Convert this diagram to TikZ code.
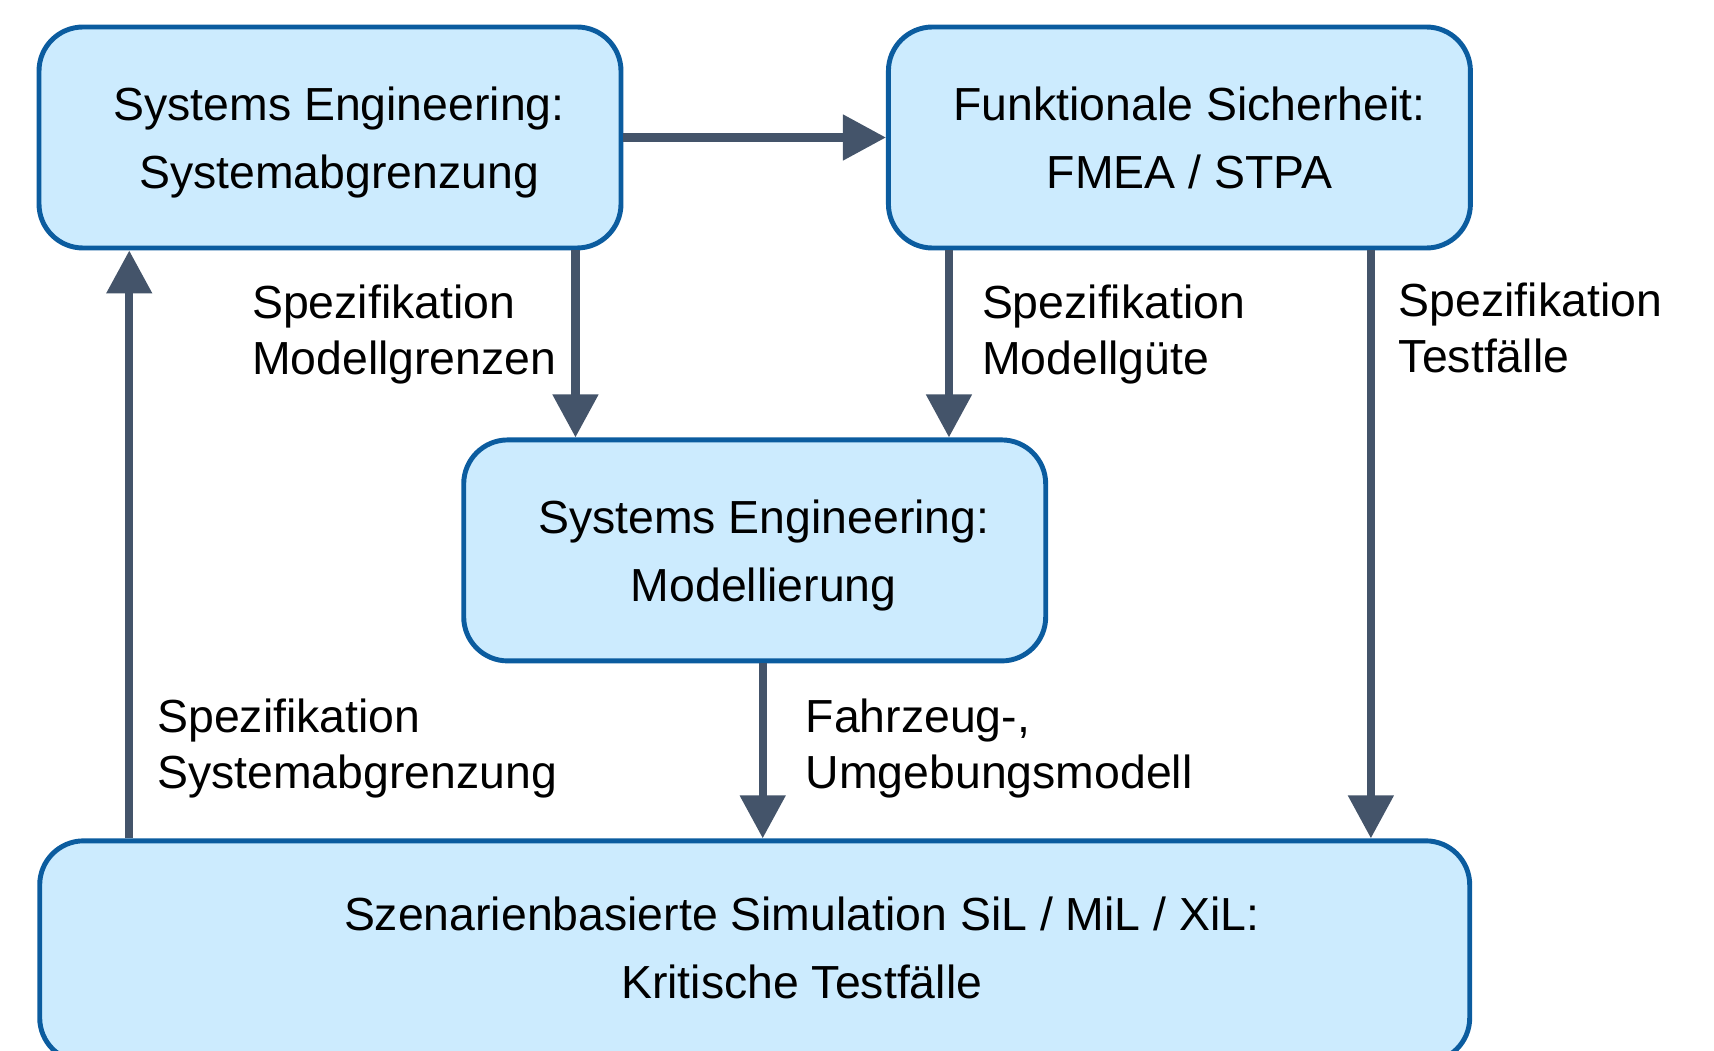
\documentclass[tikz,border=0pt]{standalone}
\usepackage{fontspec}
\setmainfont{Liberation Sans}
\usetikzlibrary{arrows.meta, positioning, calc}
\definecolor{boxfill}{RGB}{204,235,254}
\definecolor{boxline}{RGB}{11,92,159}
\definecolor{arrowgray}{RGB}{68,84,106}

\begin{document}
\begin{tikzpicture}[node distance=2cm,
every node/.style={align=center}, >={Triangle[length=0.43cm, width=0.44cm]},
box/.style={rectangle, rounded corners=0.44cm, draw=boxline, line width=1.4pt, fill=boxfill, minimum width=5.82cm, minimum height=2.21cm, font=\fontsize{13.2}{19.3}\selectfont, text depth=0pt},
flow/.style={->, draw=arrowgray, line width=2.3pt},
lbl/.style={align=left, inner sep=0pt, font=\fontsize{13.2}{15.9}\selectfont, execute at end node={\vphantom{g}}}]

  \useasboundingbox (0,0) rectangle (17.14,-10.51);

  % Top row
  \node[box] (sysab) at (3.30,-1.375) {\hspace*{0.18cm}Systems Engineering:\\\hspace*{0.18cm}Systemabgrenzung};
  \node[box, right=2.625cm of sysab] (fsich) {\hspace*{0.2cm}Funktionale Sicherheit:\\\hspace*{0.2cm}FMEA / STPA};

  % Middle
  \coordinate (mid) at ($(sysab.south)!0.5!(fsich.south)$);
  \node[box, below=1.87cm of mid] (model) {\hspace*{0.18cm}Systems Engineering:\\\hspace*{0.18cm}Modellierung};

  % Bottom
  \node[box, minimum width=14.30cm, text depth=2pt, below=1.75cm of model] (sim) {\hspace*{0.94cm}Szenarienbasierte Simulation SiL / MiL / XiL:\\\hspace*{0.94cm}Kritische Testfälle};

  \draw[flow] (sysab) -- (fsich);
  \draw[flow] ([xshift=-0.48cm]sysab.south east) -- ([xshift=-0.48cm]sysab.south east |- model.north)
    node[lbl, pos=0.45, left=0.15cm] {Spezifikation\\Modellgrenzen};
  \draw[flow] ([xshift=0.63cm]fsich.south west) -- ([xshift=0.63cm]fsich.south west |- model.north)
    node[lbl, pos=0.45, right=0.29cm] {Spezifikation\\Modellgüte};
  \draw[flow] ([xshift=-1.02cm]fsich.south east) -- ([xshift=-1.02cm]fsich.south east |- sim.north)
    node[lbl, pos=0.14, right=0.24cm] {Spezifikation\\Testfälle};
  \draw[flow] ([xshift=0.08cm]model.south) -- ([xshift=0.08cm]model.south |- sim.north)
    node[lbl, pos=0.486, right=0.39cm] {Fahrzeug-,\\Umgebungsmodell};
  \draw[flow] ([xshift=0.92cm]sim.north west) -- ([xshift=0.92cm]sim.north west |- sysab.south)
    node[lbl, pos=0.153, right=0.24cm] {Spezifikation\\Systemabgrenzung};

\end{tikzpicture}
\end{document}
